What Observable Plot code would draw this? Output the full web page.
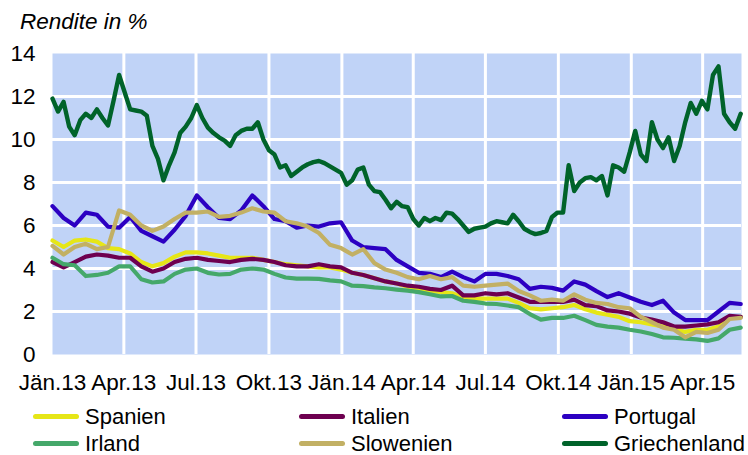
<!DOCTYPE html>
<html>
<head>
<meta charset="utf-8">
<script src="https://cdn.jsdelivr.net/npm/d3@7"></script>
<script src="https://cdn.jsdelivr.net/npm/@observablehq/plot@0.6"></script>
<style>
  html, body { margin: 0; padding: 0; background: #fff; width: 748px; height: 455px; overflow: hidden; }
  body { font-family: "Liberation Sans", Arial, sans-serif; color: #000; }
  #title { height: 24px; padding-top: 10px; padding-left: 20px; font-size: 22.5px; font-style: italic; line-height: 24px; }
  #chart svg { display: block; }
  #legend { padding-top: 3px; padding-left: 33px; }
  .row { display: flex; height: 27px; line-height: 27px; }
  .item { display: flex; align-items: center; font-size: 22px; flex-shrink: 0; white-space: nowrap; }
  .item .sw { width: 46px; height: 5px; border-radius: 3px; margin-right: 6px; flex-shrink: 0; }
</style>
</head>
<body>
<div id="title">Rendite in %</div>
<div id="chart"></div>
<div id="legend"></div>
<script>
// ---- Data ----
const seriesNames = ["Spanien", "Italien", "Portugal", "Irland", "Slowenien", "Griechenland"];
const seriesColors = ["#e6e617", "#6e0050", "#2c00c2", "#45a86a", "#c2b064", "#00632a"];

const yTicks = [0, 2, 4, 6, 8, 10, 12, 14];
const yGrid = [2, 4, 6, 8, 10, 12];
const tickDates = ["2013-01-01","2013-04-01","2013-07-01","2013-10-01","2014-01-01","2014-04-01","2014-07-01","2014-10-01","2015-01-01","2015-04-01"];
const tickLabels = ["Jän.13","Apr.13","Jul.13","Okt.13","Jän.14","Apr.14","Jul.14","Okt.14","Jän.15","Apr.15"];
const startDate = "2013-01-01";
const endDate = "2015-05-20";

// fortnightly observations, starting 2013-01-01
const spanien = [5.3,5.0,5.3,5.35,5.25,4.95,4.9,4.7,4.3,4.1,
 4.25,4.55,4.75,4.75,4.7,4.6,4.5,4.5,4.5,4.4,
 4.3,4.2,4.15,4.1,4.05,4.05,3.95,3.8,3.7,3.55,
 3.4,3.3,3.15,3.05,2.97,2.9,2.85,2.65,2.6,2.6,
 2.6,2.6,2.4,2.15,2.1,2.15,2.2,2.3,2.1,1.95,
 1.85,1.75,1.55,1.5,1.4,1.3,1.2,1.05,1.15,1.15,
 1.3,1.7,1.75];
const italien = [4.3,4.05,4.3,4.55,4.65,4.6,4.5,4.5,4.1,3.85,
 4.0,4.3,4.45,4.5,4.4,4.35,4.3,4.4,4.45,4.4,
 4.3,4.15,4.1,4.1,4.2,4.1,4.05,3.8,3.7,3.55,
 3.4,3.3,3.2,3.15,3.05,3.0,3.2,2.75,2.75,2.85,
 2.8,2.85,2.65,2.45,2.45,2.45,2.45,2.55,2.3,2.25,
 2.05,2.0,1.9,1.72,1.62,1.5,1.3,1.3,1.35,1.4,
 1.5,1.8,1.75];
const portugal = [6.9,6.35,6.0,6.6,6.5,5.95,5.9,6.4,5.75,5.5,
 5.25,5.8,6.45,7.4,6.85,6.35,6.3,6.7,7.4,6.9,
 6.3,6.2,5.9,6.0,5.95,6.1,6.15,5.3,5.0,4.95,
 4.9,4.4,4.1,3.8,3.75,3.6,3.85,3.6,3.4,3.75,
 3.75,3.65,3.5,3.05,3.15,3.1,2.97,3.4,3.25,2.95,
 2.67,2.85,2.65,2.45,2.3,2.5,1.95,1.6,1.6,1.6,
 2.0,2.4,2.35];
const irland = [4.5,4.2,4.15,3.65,3.7,3.8,4.1,4.1,3.5,3.35,
 3.4,3.75,3.95,4.0,3.8,3.72,3.75,3.95,4.0,3.95,
 3.75,3.58,3.53,3.53,3.52,3.45,3.4,3.2,3.18,3.12,
 3.08,3.02,2.97,2.9,2.8,2.7,2.72,2.5,2.45,2.37,
 2.35,2.28,2.2,1.88,1.62,1.7,1.7,1.8,1.6,1.38,
 1.3,1.25,1.15,1.07,0.95,0.8,0.78,0.74,0.7,0.63,
 0.75,1.15,1.25];
const slowenien = [5.05,4.65,5.0,5.15,4.9,5.0,6.7,6.5,6.0,5.75,
 5.95,6.3,6.6,6.6,6.65,6.4,6.45,6.6,6.8,6.65,
 6.6,6.2,6.1,5.95,5.65,5.1,4.95,4.65,4.9,4.25,
 3.95,3.8,3.6,3.5,3.65,3.5,3.6,3.2,3.15,3.2,
 3.25,3.3,2.95,2.75,2.5,2.55,2.5,2.8,2.55,2.4,
 2.35,2.2,2.15,1.75,1.5,1.25,1.15,0.8,1.05,1.0,
 1.15,1.65,1.7];
// weekly observations, starting 2013-01-01
const griechenland = [11.9,11.3,11.75,10.6,10.2,10.9,11.2,11.0,11.4,11.0,
 10.65,11.8,13.0,12.2,11.4,11.35,11.3,11.1,9.7,9.1,
 8.1,8.8,9.4,10.3,10.6,11.0,11.6,11.0,10.55,10.3,
 10.1,9.95,9.7,10.2,10.4,10.5,10.5,10.8,10.0,9.5,
 9.3,8.7,8.8,8.3,8.5,8.7,8.85,8.95,9.0,8.9,
 8.75,8.6,8.45,7.9,8.1,8.6,8.7,7.9,7.6,7.55,
 7.2,6.8,7.1,6.9,6.85,6.3,6.0,6.35,6.2,6.35,
 6.25,6.6,6.55,6.3,6.0,5.7,5.85,5.9,5.95,6.1,
 6.2,6.15,6.1,6.5,6.2,5.85,5.7,5.6,5.65,5.75,
 6.4,6.6,6.6,8.8,7.6,8.0,8.2,8.25,8.1,8.3,
 7.4,8.8,8.7,8.5,9.4,10.4,9.3,9.0,10.8,10.0,
 9.6,10.1,9.0,9.7,10.8,11.7,11.2,11.8,11.4,13.0,
 13.4,11.2,10.8,10.5,11.2];

// ---- Build tables ----
const start = new Date(startDate);
const seriesValues = [spanien, italien, portugal, irland, slowenien, griechenland];
const stepDays = [14, 14, 14, 14, 14, 7];
const rows = [];
seriesValues.forEach((vals, s) => {
  vals.forEach((v, i) => rows.push({name: seriesNames[s], date: d3.utcDay.offset(start, stepDays[s] * i), value: v}));
});
const tDates = tickDates.map(d => new Date(d));
const labelOf = new Map(tDates.map((d, i) => [+d, tickLabels[i]]));

const lineMarks = seriesNames.map((n, s) =>
  Plot.line(rows.filter(r => r.name === n), {
    x: "date", y: "value", stroke: seriesColors[s],
    strokeWidth: s === 5 ? 4.4 : 4.2, strokeLinejoin: "round", strokeLinecap: "round"
  })
);

const chart = Plot.plot({
  width: 748,
  height: 366,
  marginLeft: 52,
  marginRight: 7,
  marginTop: 19,
  marginBottom: 46,
  style: {fontFamily: "'Liberation Sans', Arial, sans-serif", fontSize: "22.5px", color: "#000", background: "#fff", overflow: "visible"},
  x: {type: "utc", domain: [start, new Date(endDate)], ticks: tDates, tickFormat: d => labelOf.get(+d), tickSize: 0, tickPadding: 20, label: null},
  y: {domain: [0, 14], ticks: yTicks, tickSize: 0, tickPadding: 17, label: null},
  marks: [
    Plot.frame({fill: "#c0d3f7", stroke: null}),
    Plot.ruleY(yGrid, {stroke: "#fff", strokeWidth: 3}),
    Plot.ruleX(tDates.slice(1), {stroke: "#fff", strokeWidth: 3}),
    ...lineMarks
  ]
});
document.getElementById("chart").appendChild(chart);

// ---- Legend ----
const legend = document.getElementById("legend");
const order = [[0, 1, 2], [3, 4, 5]];
const colW = [266, 263, 180];
order.forEach(r => {
  const row = document.createElement("div");
  row.className = "row";
  r.forEach((s, c) => {
    const it = document.createElement("div");
    it.className = "item";
    it.style.width = colW[c] + "px";
    const sw = document.createElement("span");
    sw.className = "sw";
    sw.style.background = seriesColors[s];
    const tx = document.createElement("span");
    tx.textContent = seriesNames[s];
    it.appendChild(sw); it.appendChild(tx);
    row.appendChild(it);
  });
  legend.appendChild(row);
});
</script>
</body>
</html>
